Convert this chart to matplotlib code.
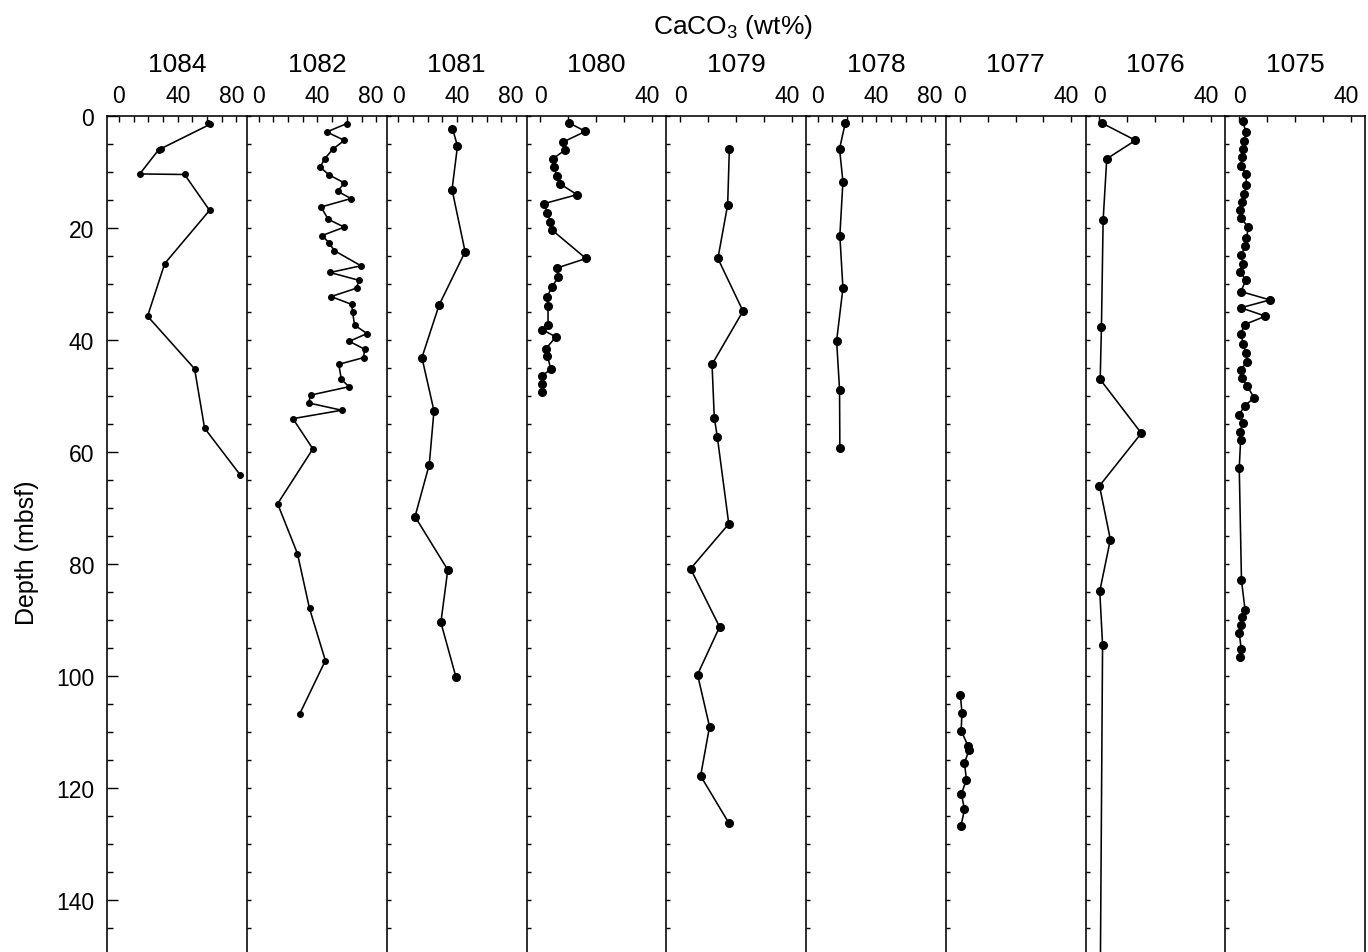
import numpy as np
import matplotlib
matplotlib.use('Agg')
import matplotlib.pyplot as plt
from matplotlib.ticker import MultipleLocator, FuncFormatter
import matplotlib.transforms as mtransforms

plt.rcParams['font.family'] = ['Liberation Sans', 'DejaVu Sans']
plt.rcParams['mathtext.fontset'] = 'custom'
plt.rcParams['mathtext.rm'] = 'Liberation Sans'

# site order, left to right
sites = ['1084', '1082', '1081', '1080', '1079', '1078', '1077', '1076', '1075']
x_max = [80, 80, 80, 40, 40, 80, 40, 40, 40]

# depth (mbsf) and CaCO3 (wt%) per site
depth_1084 = [1.3, 1.5, 5.9, 6.1, 10.4, 10.5, 16.9, 26.4, 35.8, 45.2, 55.8, 64.2]
caco3_1084 = [60.5, 62.3, 28.5, 27.0, 14.2, 44.7, 61.7, 31.2, 19.5, 51.5, 58.3, 82.7]

depth_1082 = [1.4, 2.9, 4.4, 6.0, 7.7, 9.2, 10.6, 12.0, 13.5, 14.8, 16.3, 18.5, 19.9, 21.4,
              22.7, 24.1, 26.8, 28.0, 29.4, 30.8, 32.3, 33.7, 35.1, 37.4, 38.9, 40.3, 41.7,
              43.2, 44.4, 47.1, 48.4, 49.9, 51.3, 52.6, 54.1, 59.5, 69.3, 78.2, 88.0, 97.3, 106.9]
caco3_1082 = [60.1, 46.3, 58.3, 50.4, 44.9, 41.8, 48.1, 58.3, 53.8, 62.8, 42.5, 47.3, 58.3, 43.2,
              47.9, 51.5, 69.6, 48.6, 68.3, 66.6, 49.3, 63.3, 63.9, 65.3, 73.7, 61.7, 72.1,
              71.4, 54.5, 56.3, 61.5, 35.3, 34.1, 56.5, 23.3, 36.9, 12.9, 26.4, 34.6, 45.4, 27.8]

depth_1081 = [2.3, 5.4, 13.2, 24.3, 33.8, 43.2, 52.7, 62.3, 71.6, 81.1, 90.5, 100.2]
caco3_1081 = [36.8, 40.2, 36.5, 45.4, 27.7, 16.0, 24.2, 21.0, 11.3, 33.6, 28.9, 39.1]

depth_1080 = [1.3, 2.8, 4.7, 6.1, 7.7, 9.2, 10.7, 12.2, 14.1, 15.7, 17.3, 18.9, 20.4, 25.5,
              27.2, 28.8, 30.6, 32.3, 33.9, 37.3, 38.2, 39.5, 41.7, 42.9, 45.3, 46.5, 48.0, 49.4]
caco3_1080 = [10.3, 16.1, 8.1, 8.9, 4.4, 4.7, 6.0, 7.1, 13.1, 1.3, 2.4, 3.5, 4.1, 16.3,
              5.9, 6.4, 4.1, 2.4, 2.7, 2.7, 0.6, 5.5, 1.8, 2.5, 3.7, 0.4, 0.5, 0.6]

depth_1079 = [6.0, 15.9, 25.5, 34.9, 44.4, 53.9, 57.4, 72.9, 80.9, 91.3, 99.8, 109.1, 117.9, 126.3]
caco3_1079 = [17.6, 17.0, 13.5, 22.5, 11.4, 12.2, 13.3, 17.4, 3.7, 14.1, 6.2, 10.5, 7.3, 17.4]

depth_1078 = [1.3, 5.9, 11.8, 21.4, 30.8, 40.2, 48.9, 59.3]
caco3_1078 = [18.8, 14.9, 17.2, 15.1, 17.2, 12.9, 14.9, 15.1]

depth_1077 = [103.4, 106.6, 109.8, 112.6, 113.3, 115.6, 118.6, 121.1, 123.9, 126.9]
caco3_1077 = [0.2, 0.8, 0.5, 3.0, 3.3, 1.7, 2.4, 0.6, 1.7, 0.4]

depth_1076 = [1.3, 4.4, 7.7, 18.7, 37.7, 47.1, 56.7, 66.1, 75.7, 84.9, 94.5, 175.0]
caco3_1076 = [0.8, 12.9, 2.6, 1.3, 0.7, 0.25, 15.0, 0.0, 3.9, 0.1, 1.1, 0.0]

depth_1075 = [0.9, 2.9, 4.5, 5.9, 7.4, 8.9, 10.4, 12.4, 13.9, 15.4, 16.9, 18.3, 19.9, 21.8,
              23.3, 24.8, 26.4, 27.9, 29.3, 31.4, 32.9, 34.3, 35.8, 37.3, 38.9, 40.8, 42.3,
              43.9, 45.4, 46.8, 48.3, 50.4, 51.8, 53.4, 54.9, 56.4, 57.9, 62.9, 83.0, 88.3,
              89.6, 90.9, 92.4, 95.2, 96.7]
caco3_1075 = [1.2, 2.4, 1.8, 1.2, 1.1, 0.5, 2.4, 2.6, 1.8, 1.1, 0.4, 0.6, 3.3, 2.6,
              2.1, 0.8, 1.3, 0.2, 2.4, 0.6, 11.0, 0.6, 9.4, 1.9, 0.6, 1.4, 2.3,
              2.8, 0.5, 1.0, 2.8, 5.4, 1.9, 0.0, 1.5, 0.1, 0.5, 0.0, 0.8, 2.1,
              1.1, 0.8, 0.0, 0.7, 0.4]

depths = [depth_1084, depth_1082, depth_1081, depth_1080, depth_1079,
          depth_1078, depth_1077, depth_1076, depth_1075]
values = [caco3_1084, caco3_1082, caco3_1081, caco3_1080, caco3_1079,
          caco3_1078, caco3_1077, caco3_1076, caco3_1075]

W, H = 1368, 953
fig = plt.figure(figsize=(W / 100, H / 100), dpi=100)

left = 107.3 / W
pw = 139.75 / W
top_h = (H - 116.7) / H
lw = 1.15

for i, site in enumerate(sites):
    ax = fig.add_axes([left + i * pw, 0, pw, top_h])
    ms = 4.0 if site in ('1084', '1082') else 5.5
    ax.plot(values[i], depths[i], color='black', lw=1.15, marker='o', ms=ms,
            mec='black', mfc='black')

    if x_max[i] == 80:
        ax.set_xlim(-7.9, 87.2)
    else:
        ax.set_xlim(-5.0, 45.1)
    ax.set_ylim(149.35, 0)

    ax.xaxis.set_ticks_position('top')
    ax.xaxis.set_label_position('top')
    ax.xaxis.set_major_locator(MultipleLocator(10))
    ax.xaxis.set_major_formatter(FuncFormatter(
        lambda v, p: '%d' % round(v) if round(v) % 40 == 0 else ''))
    ax.tick_params(axis='x', which='major', direction='in', length=4.5, width=1.0,
                   top=True, bottom=False, labeltop=True, labelbottom=False,
                   labelsize=16.5, pad=6.5)

    ax.yaxis.set_ticks_position('left')
    if i == 0:
        ax.yaxis.set_major_locator(MultipleLocator(20))
        ax.yaxis.set_minor_locator(MultipleLocator(5))
        ax.tick_params(axis='y', which='major', direction='in', length=8, width=1.0,
                       labelsize=16.5, pad=9.5)
        ax.tick_params(axis='y', which='minor', direction='in', length=4.3, width=1.0)
    else:
        ax.yaxis.set_major_locator(MultipleLocator(5))
        ax.tick_params(axis='y', which='major', direction='in', length=3, width=1.0,
                       labelleft=False)

    for s in ('left', 'top', 'right', 'bottom'):
        ax.spines[s].set_linewidth(lw)
    ax.spines['bottom'].set_visible(False)
    if i < len(sites) - 1:
        ax.spines['right'].set_visible(False)

    # shift the last x label a little left, as in the source figure
    ticks = ax.xaxis.get_major_ticks()
    locs = ax.xaxis.get_majorticklocs()
    for t, v in zip(ticks, locs):
        if round(v) == x_max[i]:
            off = mtransforms.ScaledTranslation(-5 / 100, 0, fig.dpi_scale_trans)
            t.label2.set_transform(t.label2.get_transform() + off)

    ax.text(0.5, 1 + (116.7 - 65) / (H - 116.7), site, transform=ax.transAxes,
            ha='center', va='center', fontsize=19)

fig.text(733 / W, 1 - 27 / H, r'CaCO$_{\mathregular{3}}$ (wt%)', ha='center',
         va='center', fontsize=19)
fig.text(27 / W, 1 - 553 / H, 'Depth (mbsf)', rotation=90, ha='center',
         va='center', fontsize=18)

fig.savefig('out.png', dpi=100)
